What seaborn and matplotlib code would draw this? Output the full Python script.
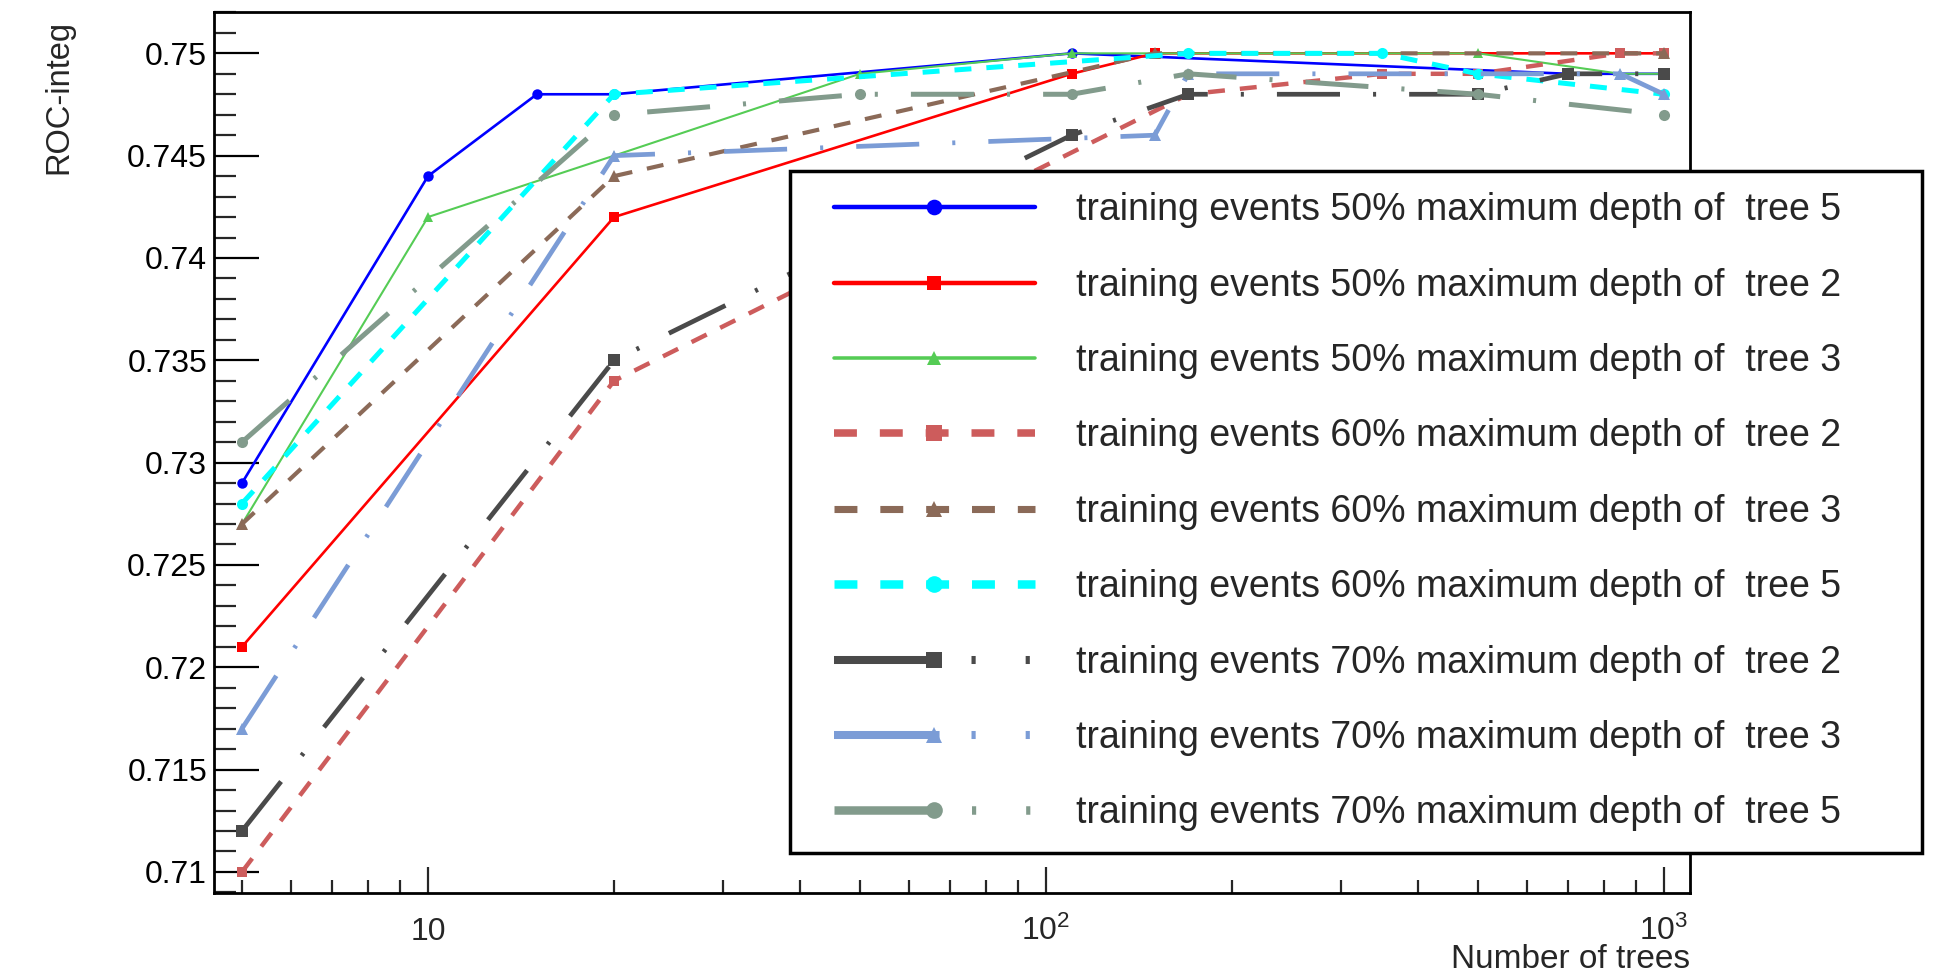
import matplotlib
matplotlib.use("Agg")
import matplotlib.pyplot as plt
import seaborn as sns
from matplotlib.ticker import FixedLocator, FixedFormatter, NullFormatter, FuncFormatter, MultipleLocator
from matplotlib.legend_handler import HandlerLine2D
from matplotlib.lines import Line2D

# ---------------- data ----------------
trees_50_d5 = [5, 10, 15, 20, 110, 700, 1000]
roc_50_d5 = [0.729, 0.744, 0.748, 0.748, 0.750, 0.749, 0.749]

trees_50_d2 = [5, 20, 110, 150, 1000]
roc_50_d2 = [0.721, 0.742, 0.749, 0.750, 0.750]

trees_50_d3 = [5, 10, 20, 50, 110, 500, 850, 1000]
roc_50_d3 = [0.727, 0.742, 0.745, 0.749, 0.750, 0.750, 0.749, 0.749]

trees_60_d2 = [5, 20, 170, 350, 500, 850, 1000]
roc_60_d2 = [0.710, 0.734, 0.748, 0.749, 0.749, 0.750, 0.750]

trees_60_d3 = [5, 20, 150, 1000]
roc_60_d3 = [0.727, 0.744, 0.750, 0.750]

trees_60_d5 = [5, 20, 170, 350, 500, 1000]
roc_60_d5 = [0.728, 0.748, 0.750, 0.750, 0.749, 0.748]

trees_70_d2 = [5, 20, 110, 170, 500, 700, 1000]
roc_70_d2 = [0.712, 0.735, 0.746, 0.748, 0.748, 0.749, 0.749]

trees_70_d3 = [5, 20, 150, 170, 850, 1000]
roc_70_d3 = [0.717, 0.745, 0.746, 0.749, 0.749, 0.748]

trees_70_d5 = [5, 20, 50, 110, 170, 500, 1000]
roc_70_d5 = [0.731, 0.747, 0.748, 0.748, 0.749, 0.748, 0.747]

series_labels = [
    "training events 50% maximum depth of  tree 5",
    "training events 50% maximum depth of  tree 2",
    "training events 50% maximum depth of  tree 3",
    "training events 60% maximum depth of  tree 2",
    "training events 60% maximum depth of  tree 3",
    "training events 60% maximum depth of  tree 5",
    "training events 70% maximum depth of  tree 2",
    "training events 70% maximum depth of  tree 3",
    "training events 70% maximum depth of  tree 5",
]
x_tick_values = [10, 100, 1000]
x_tick_labels = ["10", r"$10^{2}$", r"$10^{3}$"]
x_label = "Number of trees"
y_label = "ROC-integ"

# ---------------- style ----------------
sns.set_style("white")
plt.rcParams["font.family"] = ["Liberation Sans", "DejaVu Sans"]
plt.rcParams["mathtext.default"] = "regular"
plt.rcParams["lines.scale_dashes"] = False

W, H = 1938, 974
fig = plt.figure(figsize=(W / 100, H / 100), dpi=100)
ax = fig.add_axes([214 / W, 1 - 893 / H, (1690 - 214) / W, (893 - 12) / H])
ax.set_xscale("log")

dashed = (0, (12.2, 10.8))
dashdot = (0, (45.4, 23.8, 2.2, 23.8))

styles = [
    dict(color="#0000ff", marker="o", linewidth=1.9, markersize=7.5, linestyle="-"),
    dict(color="#ff0000", marker="s", linewidth=1.9, markersize=7.0, linestyle="-"),
    dict(color="#55cc55", marker="^", linewidth=1.5, markersize=7.0, linestyle="-"),
    dict(color="#cd5c5c", marker="s", linewidth=3.2, markersize=7.5, linestyle=dashed),
    dict(color="#8b6a58", marker="^", linewidth=3.0, markersize=8.0, linestyle=dashed),
    dict(color="#00ffff", marker="o", linewidth=3.6, markersize=8.0, linestyle=dashed),
    dict(color="#4a4a4a", marker="s", linewidth=3.4, markersize=8.0, linestyle=dashdot),
    dict(color="#7b9cd6", marker="^", linewidth=3.4, markersize=8.0, linestyle=dashdot),
    dict(color="#829b8c", marker="o", linewidth=3.6, markersize=8.0, linestyle=dashdot),
]

xs = [trees_50_d5, trees_50_d2, trees_50_d3, trees_60_d2, trees_60_d3,
      trees_60_d5, trees_70_d2, trees_70_d3, trees_70_d5]
ys = [roc_50_d5, roc_50_d2, roc_50_d3, roc_60_d2, roc_60_d3,
      roc_60_d5, roc_70_d2, roc_70_d3, roc_70_d5]

for x, y, lab, st in zip(xs, ys, series_labels, styles):
    sns.lineplot(x=x, y=y, ax=ax, label=lab, errorbar=None,
                 markeredgewidth=0, markeredgecolor=st["color"], **st)

# ---------------- axes ----------------
ax.set_xlim(4.505, 1102)
ax.set_ylim(0.70897, 0.75202)

ax.xaxis.set_major_locator(FixedLocator(x_tick_values))
ax.xaxis.set_major_formatter(FixedFormatter(x_tick_labels))
minor_x = [m * 10 ** e for e in range(0, 3) for m in range(2, 10)]
ax.xaxis.set_minor_locator(FixedLocator(minor_x))
ax.xaxis.set_minor_formatter(NullFormatter())

ax.yaxis.set_major_locator(MultipleLocator(0.005))
ax.yaxis.set_minor_locator(MultipleLocator(0.001))
ax.yaxis.set_major_formatter(FuncFormatter(lambda v, p: f"{v:g}"))

ax.tick_params(axis="y", which="major", direction="in", length=32.4, width=1.6,
               labelsize=23, pad=5, right=False, left=True, colors="black")
ax.tick_params(axis="y", which="minor", direction="in", length=16, width=1.6,
               right=False, left=True)
ax.tick_params(axis="x", which="major", direction="in", length=18.7, width=1.6,
               labelsize=23, pad=33.5, top=False, bottom=True)
ax.tick_params(axis="x", which="minor", direction="in", length=9.4, width=1.6,
               top=False, bottom=True)
for t in ax.xaxis.get_major_ticks():
    t.label1.set_verticalalignment("baseline")

for sp in ax.spines.values():
    sp.set_linewidth(2.0)
    sp.set_color("black")
    sp.set_visible(True)

ax.set_xlabel(x_label, fontsize=24, loc="right")
ax.xaxis.set_label_coords(1.0, -(968 - 893) / (893 - 12))
ax.xaxis.label.set_verticalalignment("baseline")

ax.set_ylabel(y_label, fontsize=23.5, loc="top")
ax.yaxis.set_label_coords(-(214 - 74) / (1690 - 214), (893 - 20) / (893 - 12))

# ---------------- legend ----------------
handles, labels = ax.get_legend_handles_labels()
leg = ax.legend(handles, labels, loc="upper left",
                bbox_to_anchor=(790 / W, 0, (1922 - 790) / W, 1 - 171 / H),
                bbox_transform=fig.transFigure, mode="expand", borderaxespad=0,
                fontsize=27, frameon=True, fancybox=False, edgecolor="black",
                framealpha=1, borderpad=0.57, labelspacing=1.05,
                handlelength=5.95, handletextpad=1.12,
                handler_map={Line2D: HandlerLine2D(xpad=0.61)})
leg.get_frame().set_linewidth(2.5)
for i, h in enumerate(leg.legend_handles):
    h.set_linewidth(h.get_linewidth() * 1.7)
    h.set_markersize(h.get_markersize() * 1.5)
    if 3 <= i <= 5:
        h.set_linestyle((0, (16.5, 16.5)))
    elif i >= 6:
        h.set_linestyle((0, (76, 23, 3, 36, 3, 72)))

fig.savefig("out.png", dpi=100)
